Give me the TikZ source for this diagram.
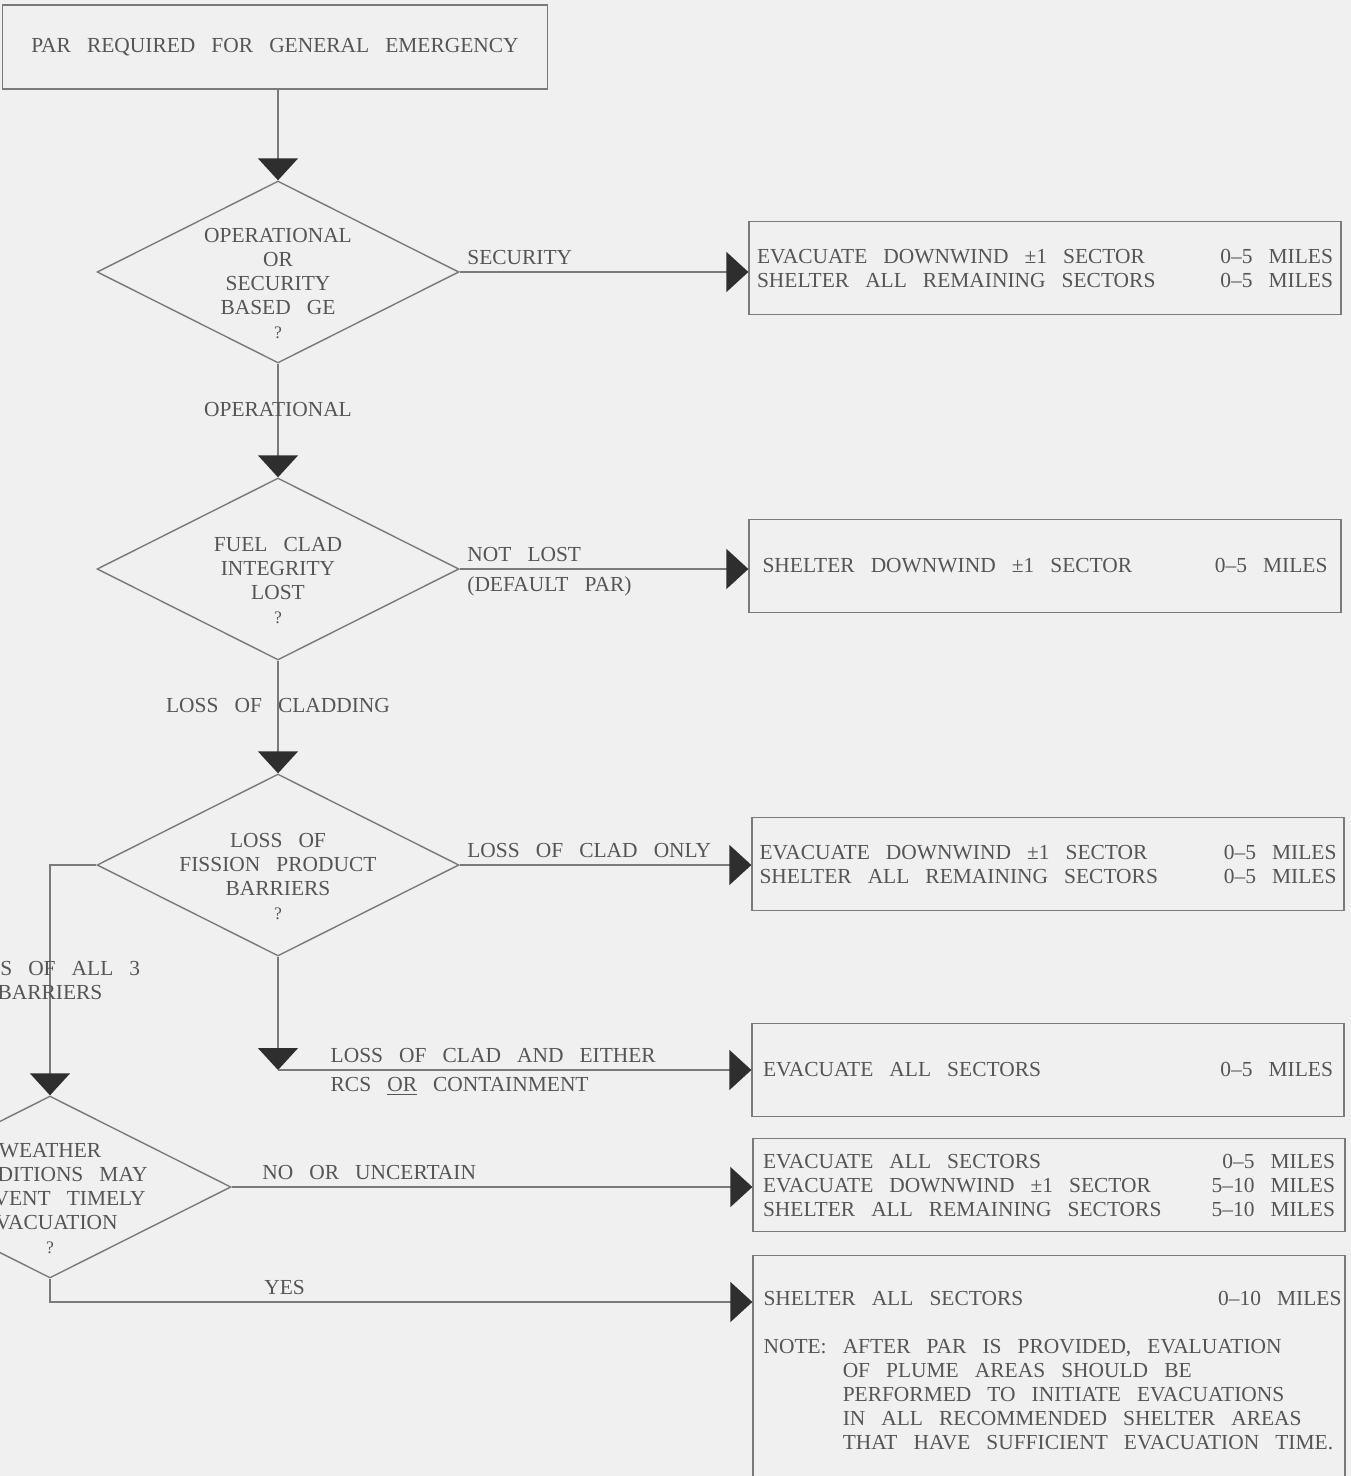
\documentclass[tikz,border=0pt]{standalone}
\usepackage{fontspec}
\setmainfont{Liberation Serif}[WordSpace=3]
\usetikzlibrary{positioning}
\usetikzlibrary{shapes.geometric,arrows.meta}

\definecolor{bgcol}{HTML}{F0F0F0}
\definecolor{inkcol}{HTML}{555555}
\definecolor{linecol}{HTML}{7A7A7A}
\definecolor{tipcol}{HTML}{2E2E2E}

\newcommand{\pline}[3][11.5cm]{\makebox[#1]{#2\hfill#3}}
\newcommand{\qmark}{{\fontsize{10}{13.66}\selectfont ?}}

\begin{document}
\begin{tikzpicture}[x=0.02cm,y=-0.02cm,
  every node/.style={font=\fontsize{12.2}{13.66}\selectfont, text=inkcol},
  startbox/.style={draw=linecol, line width=0.8pt, minimum width=10.9cm, minimum height=1.68cm},
  outbox/.style={draw=linecol, line width=0.8pt, minimum width=11.84cm, minimum height=1.86cm, align=left, inner sep=0pt},
  decision/.style={diamond, draw=linecol, line width=0.8pt, minimum width=7.24cm, minimum height=3.64cm, inner sep=0pt},
  qtext/.style={align=center, yshift=-0.24cm},
  lbl/.style={inner sep=0.14cm},
  flow/.style={draw=linecol, line width=0.8pt, -{Triangle[width=0.8cm,length=0.44cm,color=tipcol]}}]
 \useasboundingbox (0,0) rectangle (1351,1476);
 \fill[bgcol] (0,0) rectangle (1351,1476);
 \clip (0,0) rectangle (1351,1476);

 \node[startbox] (start) at (275,47) {PAR REQUIRED FOR GENERAL EMERGENCY};

 \node[decision, label={[qtext]center:OPERATIONAL\\OR\\SECURITY\\BASED GE\\\qmark}] (q1) at (278,272) {};
 \node[decision, label={[qtext]center:FUEL CLAD\\INTEGRITY\\LOST\\\qmark}] (q2) at (278,569) {};
 \node[decision, label={[qtext]center:LOSS OF\\FISSION PRODUCT\\BARRIERS\\\qmark}] (q3) at (278,865) {};
 \node[decision, label={[qtext]center:WEATHER\\CONDITIONS MAY\\PREVENT TIMELY\\EVACUATION\\\qmark}] (q4) at (50,1187) {};

 \node[outbox] (b1) at (1045,268) {\pline[11.52cm]{EVACUATE DOWNWIND ±1 SECTOR}{0--5 MILES}\\
   \pline[11.52cm]{SHELTER ALL REMAINING SECTORS}{0--5 MILES}};
 \node[outbox] (b2) at (1045,566) {\pline[11.3cm]{SHELTER DOWNWIND ±1 SECTOR}{0--5 MILES}};
 \node[outbox] (b3) at (1048,864) {\pline[11.54cm]{EVACUATE DOWNWIND ±1 SECTOR}{0--5 MILES}\\
   \pline[11.54cm]{SHELTER ALL REMAINING SECTORS}{0--5 MILES}};
 \node[outbox] (b4) at (1048,1070) {\pline[11.4cm]{EVACUATE ALL SECTORS}{0--5 MILES}};
 \node[outbox] (b5) at (1049,1185) {\pline[11.44cm]{EVACUATE ALL SECTORS}{0--5 MILES}\\
   \pline[11.44cm]{EVACUATE DOWNWIND ±1 SECTOR}{5--10 MILES}\\
   \pline[11.44cm]{SHELTER ALL REMAINING SECTORS}{5--10 MILES}};
 \node[outbox, anchor=north, minimum height=5cm] (b6) at (1049,1255) {};
 \node[anchor=north west, align=left] (b6txt) at ([shift={(0.1cm,-0.6cm)}]b6.north west)
   {\pline[11.56cm]{SHELTER ALL SECTORS}{0--10 MILES}\\[13.66pt]
    NOTE: AFTER PAR IS PROVIDED, EVALUATION\\
    \phantom{NOTE: }OF PLUME AREAS SHOULD BE\\
    \phantom{NOTE: }PERFORMED TO INITIATE EVACUATIONS\\
    \phantom{NOTE: }IN ALL RECOMMENDED SHELTER AREAS\\
    \phantom{NOTE: }THAT HAVE SUFFICIENT EVACUATION TIME.};

 \draw[flow] (q1.north |- start.south) -- (q1.north);
 \draw[flow] (q1.east) -- (q1.east -| b1.west) node[lbl, pos=0, anchor=south west] {SECURITY};
 \draw[flow] (q1.south) -- (q2.north) node[lbl, pos=0.4] {OPERATIONAL};
 \draw[flow] (q2.east) -- (q2.east -| b2.west) node[lbl, pos=0, anchor=south west] {NOT LOST}
   node[lbl, pos=0, anchor=north west] {(DEFAULT PAR)};
 \draw[flow] (q2.south) -- (q3.north) node[lbl, pos=0.4] {LOSS OF CLADDING};
 \draw[flow] (q3.east) -- (q3.east -| b3.west) node[lbl, pos=0, anchor=south west] {LOSS OF CLAD ONLY};
 \coordinate (split) at (q3.south |- b4.west);
 \draw[flow] (q3.south) -- (split);
 \draw[flow] (split) -- (b4.west) node[lbl, pos=0, anchor=south west, xshift=0.9cm] {LOSS OF CLAD AND EITHER}
   node[lbl, pos=0, anchor=north west, xshift=0.9cm] {RCS \underline{OR} CONTAINMENT};
 \draw[flow] (q3.west) -| (q4.north) node[lbl, pos=0.75, align=center] {LOSS OF ALL 3\\BARRIERS};
 \draw[flow] (q4.east) -- (q4.east -| b5.west) node[lbl, pos=0, anchor=south west, xshift=0.46cm] {NO OR UNCERTAIN};
 \coordinate (b6in) at ([yshift=-0.94cm]b6.north west);
 \draw[flow] (q4.south) |- (b6in) node[lbl, pos=0.667, above] {YES};
\end{tikzpicture}
\end{document}
